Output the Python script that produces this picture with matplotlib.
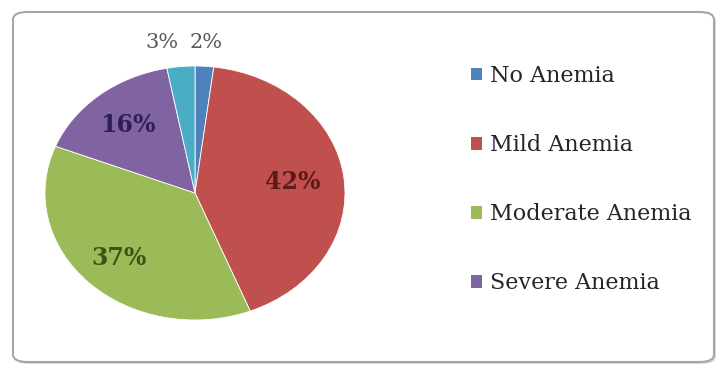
import matplotlib.pyplot as plt
import numpy as np
from matplotlib.patches import FancyBboxPatch, Patch

# slices in drawing order, clockwise from 12 o'clock
categories = ["No Anemia", "Mild Anemia", "Moderate Anemia", "Severe Anemia", ""]
shares = [2, 42, 37, 16, 3]
colors = ["#4F81BD", "#C0504D", "#9BBB59", "#8064A2", "#4BACC6"]
label_colors = ["#595959", "#5C1A18", "#3A5418", "#2E1F52", "#595959"]
label_dist = [1.19, 0.66, 0.72, 0.70, 1.19]
label_bold = [False, True, True, True, False]
legend_count = 4

W, H = 723, 373
fig = plt.figure(figsize=(W / 100, H / 100), dpi=100)

# rounded chart frame with a faint shadow
shadow = FancyBboxPatch((15 / W, 9 / H), 701 / W, 350 / H,
                        boxstyle="round,pad=0,rounding_size=0.02",
                        transform=fig.transFigure, facecolor="#d9d9d9",
                        edgecolor="none", zorder=-2)
frame = FancyBboxPatch((13 / W, 11 / H), 701 / W, 350 / H,
                       boxstyle="round,pad=0,rounding_size=0.02",
                       transform=fig.transFigure, facecolor="white",
                       edgecolor="#a6a6a6", linewidth=1.5, zorder=-1)
fig.patches.extend([shadow, frame])

# elliptical pie: center (195, 193) px, radii 150 x 127 px
cx, cy, rx, ry = 195, 193, 150, 127
ax = fig.add_axes([(cx - rx) / W, (H - cy - ry) / H, 2 * rx / W, 2 * ry / H])
ax.patch.set_visible(False)
wedges, _ = ax.pie(shares, colors=colors, startangle=90, counterclock=False,
                   wedgeprops=dict(edgecolor="white", linewidth=0.6))
ax.set_aspect("auto")
ax.set_xlim(-1, 1)
ax.set_ylim(-1, 1)
ax.axis("off")

for w, val, d, c, b in zip(wedges, shares, label_dist, label_colors, label_bold):
    mid = np.deg2rad((w.theta1 + w.theta2) / 2)
    x, y = d * np.cos(mid), d * np.sin(mid)
    ha = "center"
    if d > 1 and np.cos(mid) < -0.05:
        ha = "right"
    ax.text(x, y, f"{val}%", ha=ha, va="center", color=c,
            fontsize=17 if b else 15, fontweight="bold" if b else "normal",
            family="DejaVu Serif", clip_on=False)

handles = [Patch(facecolor=colors[i], edgecolor="none", label=categories[i])
           for i in range(legend_count)]
fig.legend(handles=handles, loc="upper left", bbox_to_anchor=(451 / W, 1 - 45 / H),
           frameon=False, handlelength=0.5, handleheight=0.5, handletextpad=0.35,
           labelspacing=2.12, prop=dict(family="DejaVu Serif", size=16),
           labelcolor="#262626")

fig.savefig("out.png", dpi=100)
